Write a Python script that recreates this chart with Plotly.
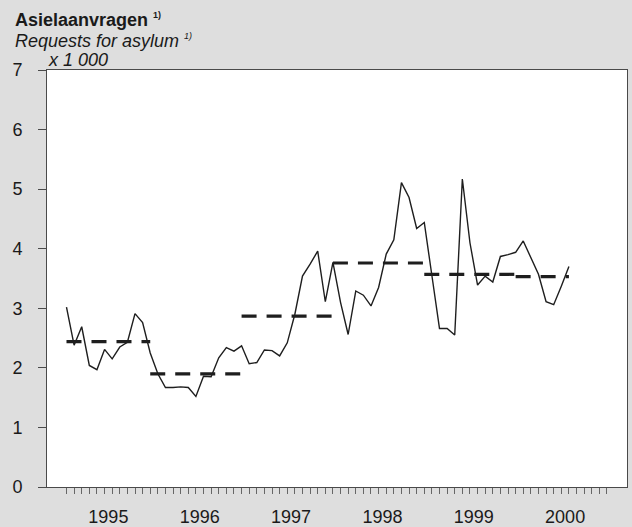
import plotly.graph_objects as go

# monthly asylum requests (x 1 000), Jan 1995 .. Jul 2000
start_year = 1995
requests = [3.02, 2.38, 2.69, 2.04, 1.97, 2.31, 2.15, 2.35, 2.43, 2.91, 2.76, 2.25,
            1.90, 1.67, 1.67, 1.68, 1.67, 1.52, 1.86, 1.85, 2.17, 2.34, 2.28, 2.37,
            2.07, 2.09, 2.30, 2.29, 2.20, 2.42, 2.90, 3.54, 3.74, 3.96, 3.11, 3.77,
            3.10, 2.56, 3.29, 3.22, 3.04, 3.35, 3.91, 4.15, 5.11, 4.86, 4.34, 4.44,
            3.55, 2.66, 2.66, 2.55, 5.17, 4.10, 3.39, 3.54, 3.44, 3.87, 3.90, 3.94,
            4.13, 3.85, 3.57, 3.11, 3.06, 3.37, 3.70]

# yearly averages (dashed)
years = [1995, 1996, 1997, 1998, 1999, 2000]
year_avg = [2.44, 1.90, 2.87, 3.76, 3.57, 3.53]

y_ticks = [0, 1, 2, 3, 4, 5, 6, 7]

months = list(range(len(requests)))
n_axis_months = 12 * len(years)

INK = "#1e1e1e"
AXIS = "#4a4a4a"
FONT = "Liberation Sans, Arial, sans-serif"

fig = go.Figure()

fig.add_trace(go.Scatter(
    x=months, y=requests, mode="lines",
    line=dict(color=INK, width=1.4),
    showlegend=False, hoverinfo="skip",
))

for k, (yr, avg) in enumerate(zip(years, year_avg)):
    x0 = 0 if k == 0 else 12 * k - 1
    x1 = min(12 * k + 11, months[-1])
    fig.add_trace(go.Scatter(
        x=[x0, x1], y=[avg, avg], mode="lines", xaxis="x2",
        line=dict(color=INK, width=3.2, dash="15px,10px"),
        showlegend=False, hoverinfo="skip",
    ))

x_range = [-2.56, 73.63]
year_marks = [0] + [12 * k - 1 for k in range(1, len(years))]

fig.update_layout(
    width=632, height=527,
    margin=dict(l=47, r=5, t=70, b=40, autoexpand=False),
    paper_bgcolor="#dedede",
    plot_bgcolor="white",
    font=dict(family=FONT, size=18, color="#1a1a1a"),
    xaxis=dict(
        range=x_range, showgrid=False, zeroline=False, automargin=False,
        showline=True, mirror=True, linecolor=AXIS, linewidth=1,
        tickmode="array", tickvals=year_marks, ticktext=[""] * len(year_marks),
        ticks="outside", ticklen=10, tickwidth=1, tickcolor=AXIS,
        minor=dict(tickmode="array", tickvals=list(range(n_axis_months)),
                   ticks="outside", ticklen=6, tickwidth=1, tickcolor="#666666"),
    ),
    xaxis2=dict(
        range=x_range, overlaying="x", anchor="y", side="bottom",
        showgrid=False, zeroline=False, showline=False, automargin=False,
        tickmode="array", tickvals=[12 * k + 5.5 for k in range(len(years))],
        ticktext=[str(y) for y in years], ticks="",
        ticklabelstandoff=17,
    ),
    yaxis=dict(
        range=[0, 7], showgrid=False, zeroline=False, automargin=False,
        showline=True, mirror=True, linecolor=AXIS, linewidth=1,
        tickmode="array", tickvals=y_ticks,
        ticks="outside", ticklen=8, tickwidth=1, tickcolor=AXIS,
        ticklabelstandoff=12,
    ),
)

def px_x(p):
    return (p - 47) / (632 - 47 - 5)

def px_y(p):
    return (527 - 40 - p) / (527 - 40 - 70)

sup = '<sup><span style="font-size:9px">1)</span></sup>'
fig.add_annotation(text="<b>Asielaanvragen " + sup.replace("1)", "<b>1)</b>") + "</b>",
                   xref="paper", yref="paper", x=px_x(13), y=px_y(20),
                   xanchor="left", yanchor="middle", showarrow=False,
                   font=dict(size=18))
fig.add_annotation(text="<i>Requests for asylum " + sup + "</i>",
                   xref="paper", yref="paper", x=px_x(13), y=px_y(41),
                   xanchor="left", yanchor="middle", showarrow=False,
                   font=dict(size=18))
fig.add_annotation(text="<i>x 1 000</i>",
                   xref="paper", yref="paper", x=px_x(46), y=px_y(60),
                   xanchor="left", yanchor="middle", showarrow=False,
                   font=dict(size=18))

# the page's default body margin would shift the figure by 8px
fig.write_html("out.html",
               config={"displayModeBar": False},
               post_script="document.body.style.margin='0';"
                           "document.body.style.overflow='hidden';")
